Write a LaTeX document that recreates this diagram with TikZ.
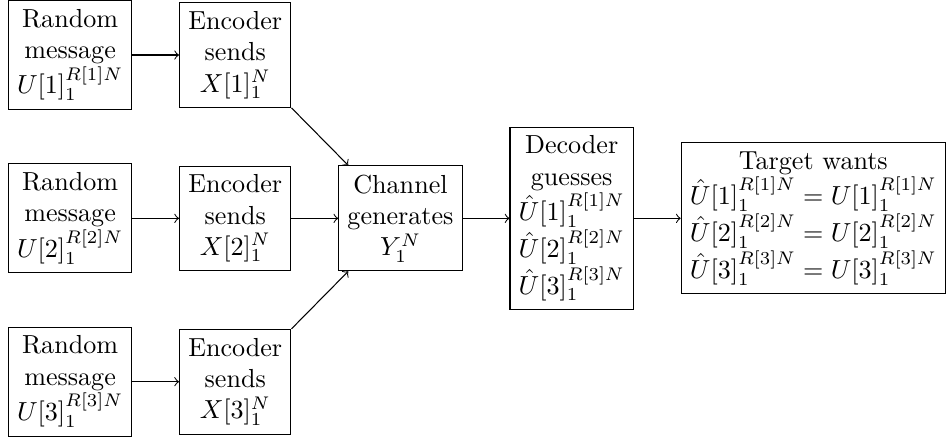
\documentclass[tikz,border=0pt]{standalone}
\usepackage{amsmath}
\usetikzlibrary{positioning}

\begin{document}
\begin{tikzpicture}
                \tikzset{block/.style={draw, align=center}, node distance=0.63cm}
                \node[block] (msg1) at (0, 0)    {Random\\message\\$U[1]_1^{R[1]N}$};
                \node[block] (msg2) at (0, -2.2) {Random\\message\\$U[2]_1^{R[2]N}$};
                \node[block] (msg3) at (0, -4.4) {Random\\message\\$U[3]_1^{R[3]N}$};
                \node[block, right=of msg1] (enc1) {Encoder\\sends\\$X[1]_1^N$};
                \node[block, right=of msg2] (enc2) {Encoder\\sends\\$X[2]_1^N$};
                \node[block, right=of msg3] (enc3) {Encoder\\sends\\$X[3]_1^N$};
                \node[block, right=of enc2] (chan) {Channel\\generates\\$Y_1^N$};
                \node[block, right=of chan] (dec) {Decoder\\guesses\\$\hat{U}[1]_1^{R[1]N}$\\$\hat{U}[2]_1^{R[2]N}$\\$\hat{U}[3]_1^{R[3]N}$};
                \node[block, right=of dec] (target) {Target wants\\$\hat{U}[1]_1^{R[1]N} = U[1]_1^{R[1]N}$\\$\hat{U}[2]_1^{R[2]N} = U[2]_1^{R[2]N}$\\$\hat{U}[3]_1^{R[3]N} = U[3]_1^{R[3]N}$};
                \draw[->] (msg1) -- (enc1);
                \draw[->] (msg2) -- (enc2);
                \draw[->] (msg3) -- (enc3);
                \draw[->] (enc1.south east) -- (chan);
                \draw[->] (enc2) -- (chan);
                \draw[->] (enc3.north east) -- (chan);
                \draw[->] (chan) -- (dec);
                \draw[->] (dec) -- (target);
                \pgfresetboundingbox
                \useasboundingbox ([xshift=-3pt, yshift=-2.5pt]msg3.south west) rectangle (target.east |- msg1.north);
            \end{tikzpicture}
\end{document}
